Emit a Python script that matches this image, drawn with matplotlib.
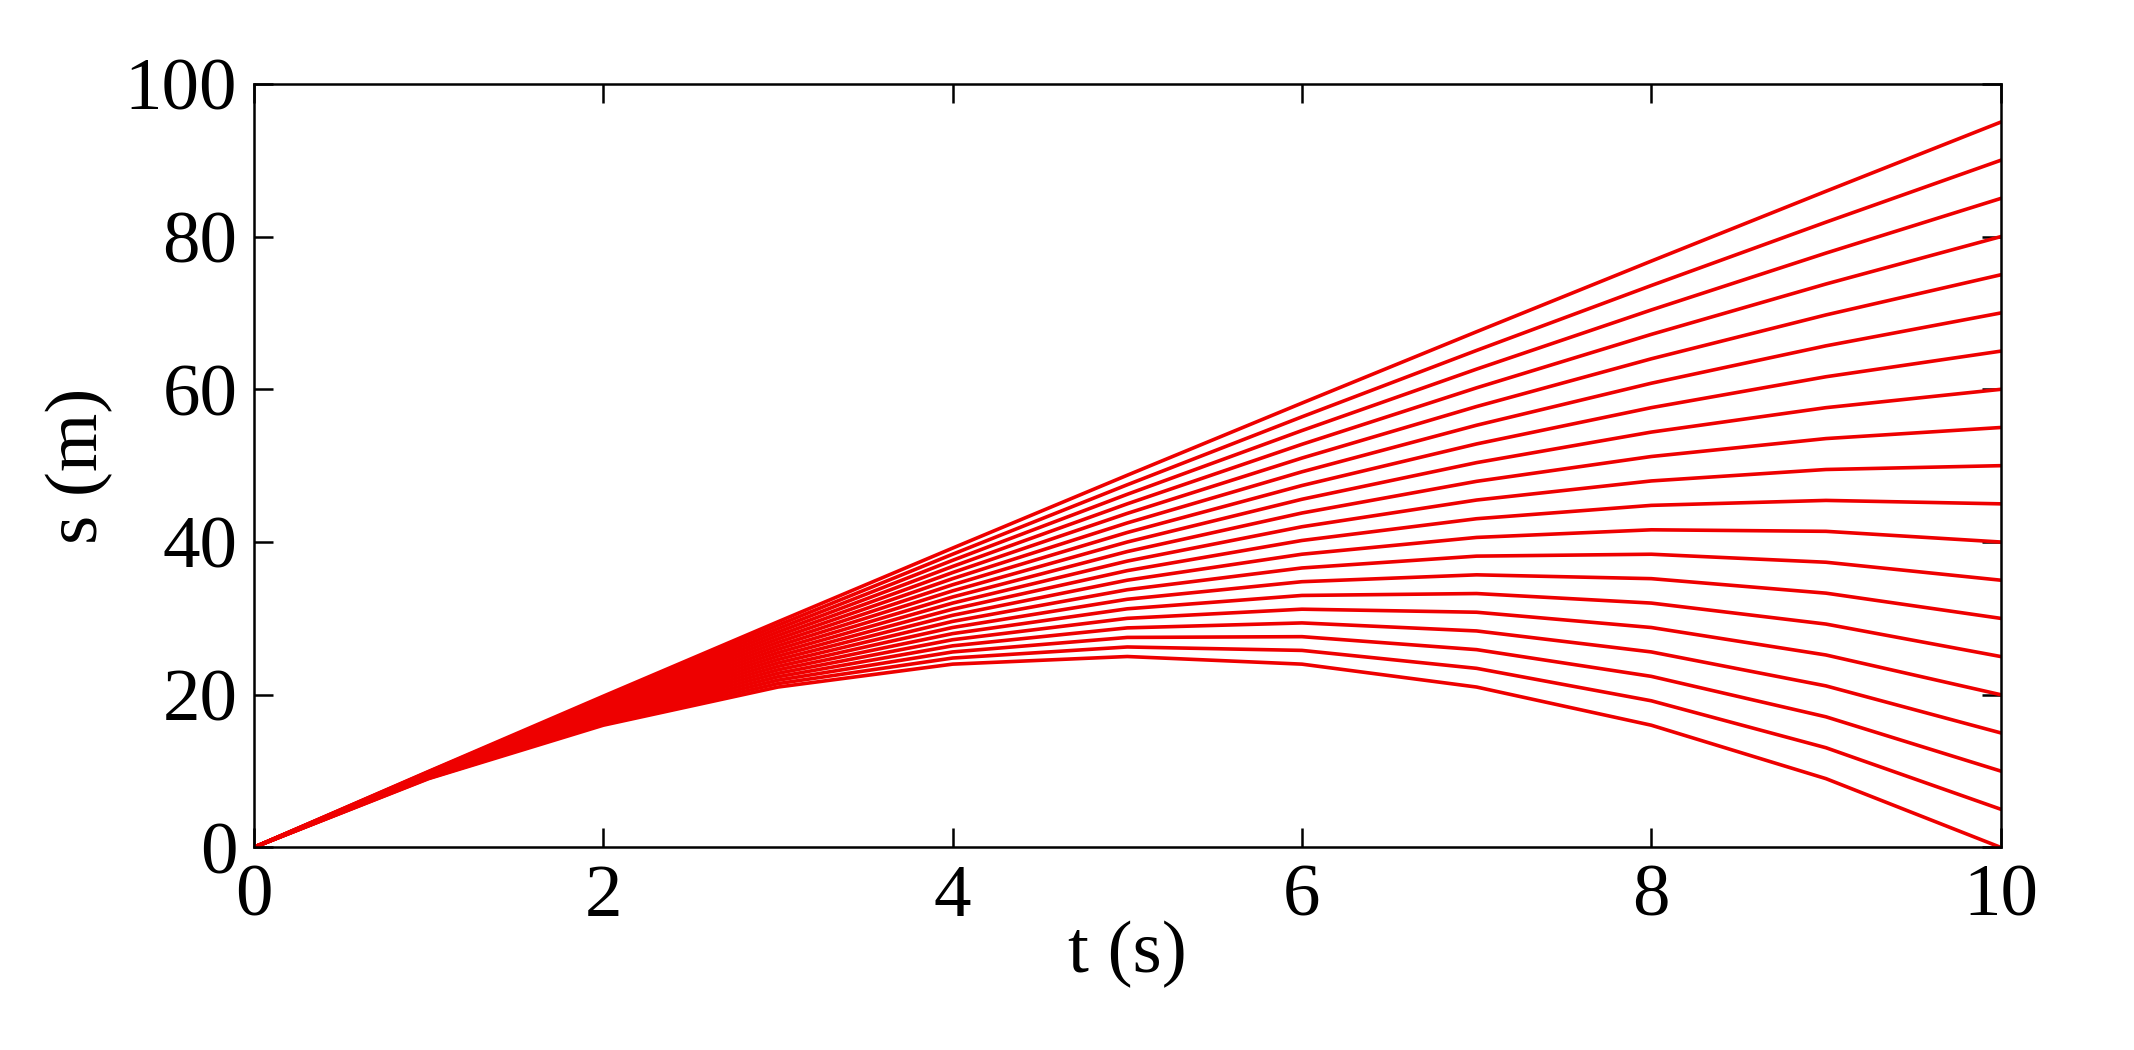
import matplotlib
matplotlib.use('Agg')
import matplotlib.pyplot as plt

# time samples (s)
t = [0, 1, 2, 3, 4, 5, 6, 7, 8, 9, 10]

# position curves s (m), one row per curve, read at each second
curves = [
    [0, 9.95, 19.8, 29.55, 39.2, 48.75, 58.2, 67.55, 76.8, 85.95, 95],
    [0, 9.9, 19.6, 29.1, 38.4, 47.5, 56.4, 65.1, 73.6, 81.9, 90],
    [0, 9.85, 19.4, 28.65, 37.6, 46.25, 54.6, 62.65, 70.4, 77.85, 85],
    [0, 9.8, 19.2, 28.2, 36.8, 45, 52.8, 60.2, 67.2, 73.8, 80],
    [0, 9.75, 19, 27.75, 36, 43.75, 51, 57.75, 64, 69.75, 75],
    [0, 9.7, 18.8, 27.3, 35.2, 42.5, 49.2, 55.3, 60.8, 65.7, 70],
    [0, 9.65, 18.6, 26.85, 34.4, 41.25, 47.4, 52.85, 57.6, 61.65, 65],
    [0, 9.6, 18.4, 26.4, 33.6, 40, 45.6, 50.4, 54.4, 57.6, 60],
    [0, 9.55, 18.2, 25.95, 32.8, 38.75, 43.8, 47.95, 51.2, 53.55, 55],
    [0, 9.5, 18, 25.5, 32, 37.5, 42, 45.5, 48, 49.5, 50],
    [0, 9.45, 17.8, 25.05, 31.2, 36.25, 40.2, 43.05, 44.8, 45.45, 45],
    [0, 9.4, 17.6, 24.6, 30.4, 35, 38.4, 40.6, 41.6, 41.4, 40],
    [0, 9.35, 17.4, 24.15, 29.6, 33.75, 36.6, 38.15, 38.4, 37.35, 35],
    [0, 9.3, 17.2, 23.7, 28.8, 32.5, 34.8, 35.7, 35.2, 33.3, 30],
    [0, 9.25, 17, 23.25, 28, 31.25, 33, 33.25, 32, 29.25, 25],
    [0, 9.2, 16.8, 22.8, 27.2, 30, 31.2, 30.8, 28.8, 25.2, 20],
    [0, 9.15, 16.6, 22.35, 26.4, 28.75, 29.4, 28.35, 25.6, 21.15, 15],
    [0, 9.1, 16.4, 21.9, 25.6, 27.5, 27.6, 25.9, 22.4, 17.1, 10],
    [0, 9.05, 16.2, 21.45, 24.8, 26.25, 25.8, 23.45, 19.2, 13.05, 5],
    [0, 9, 16, 21, 24, 25, 24, 21, 16, 9, 0],
]

plt.rcParams['font.family'] = ['Liberation Serif', 'DejaVu Serif']

fig = plt.figure(figsize=(21.34, 10.5), dpi=100)
ax = fig.add_axes([0.119, 0.193, 0.8185, 0.727])

for s in curves:
    ax.plot(t, s, color='#ee0000', lw=2.6, solid_joinstyle='round')

ax.set_xlim(0, 10)
ax.set_ylim(0, 100)
ax.set_xticks([0, 2, 4, 6, 8, 10])
ax.set_yticks([0, 20, 40, 60, 80, 100])
ax.tick_params(direction='in', top=True, right=True, length=14, width=1.8,
               labelsize=54, pad=12)
for sp in ax.spines.values():
    sp.set_linewidth(1.8)

ax.set_xlabel('t (s)', fontsize=54, labelpad=-8)
ax.set_ylabel('s (m)', fontsize=54, labelpad=8)

fig.savefig('out.png', dpi=100)
